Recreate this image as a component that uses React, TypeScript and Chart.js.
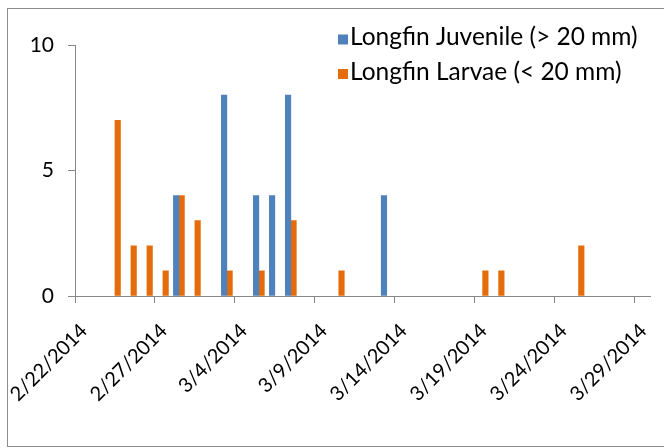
import React, { useEffect, useRef } from 'react';
import { Chart, registerables } from 'chart.js';

Chart.register(...registerables);

// ---- data ----
const AXIS_START = '2/22/2014';
const X_MAX_DAYS = 36;
const X_TICK_STEP = 5;
const Y_MAX = 10;
const Y_STEP = 5;

const juvenileLabel = 'Longfin Juvenile (> 20 mm)';
const juvenileDates = ['2/28/2014', '3/3/2014', '3/5/2014', '3/6/2014', '3/7/2014', '3/13/2014'];
const juvenileCounts = [4, 8, 4, 4, 8, 4];

const larvaeLabel = 'Longfin Larvae (< 20 mm)';
const larvaeDates = [
  '2/24/2014', '2/25/2014', '2/26/2014', '2/27/2014', '2/28/2014', '3/1/2014',
  '3/3/2014', '3/5/2014', '3/7/2014', '3/10/2014', '3/19/2014', '3/20/2014', '3/25/2014',
];
const larvaeCounts = [7, 2, 2, 1, 4, 3, 1, 1, 3, 1, 1, 1, 2];

const BLUE = '#4F81BD';
const ORANGE = '#E46C0A';
const FONT = 'Lato, "Open Sans", sans-serif';

// ---- helpers ----
const DAY = 86400000;
function parseDate(s: string): number {
  const [m, d, y] = s.split('/').map(Number);
  return Date.UTC(y, m - 1, d);
}
const startMs = parseDate(AXIS_START);
const dayOffset = (s: string) => Math.round((parseDate(s) - startMs) / DAY);
const fmtDay = (n: number) => {
  const dt = new Date(startMs + n * DAY);
  return `${dt.getUTCMonth() + 1}/${dt.getUTCDate()}/${dt.getUTCFullYear()}`;
};
const toPoints = (dates: string[], counts: number[]) =>
  dates.map((d, i) => ({ x: dayOffset(d) + 0.5, y: counts[i] }));

const framePlugin = {
  id: 'frameAndLegend',
  afterDraw(chart: any) {
    const ctx = chart.ctx as CanvasRenderingContext2D;
    ctx.save();
    ctx.strokeStyle = '#8c8c8c';
    ctx.lineWidth = 1;
    ctx.strokeRect(7.5, 8.5, 670, 438);
    ctx.font = `24.5px ${FONT}`;
    ctx.textBaseline = 'middle';
    ctx.textAlign = 'left';
    chart.data.datasets.forEach((ds: any, i: number) => {
      const cy = 39.5 + i * 34.5;
      ctx.fillStyle = ds.backgroundColor;
      ctx.fillRect(338, cy - 5, 10, 10);
      ctx.fillStyle = '#000';
      ctx.fillText(ds.label, 350, cy - 2);
    });
    ctx.restore();
  },
};

export default function App() {
  const ref = useRef<HTMLCanvasElement>(null);
  useEffect(() => {
    if (!ref.current) return;
    const chart = new Chart(ref.current, {
      type: 'bar',
      data: {
        datasets: [
          {
            label: juvenileLabel,
            data: toPoints(juvenileDates, juvenileCounts),
            backgroundColor: BLUE,
            borderWidth: 0,
            barThickness: 5.5,
          },
          {
            label: larvaeLabel,
            data: toPoints(larvaeDates, larvaeCounts),
            backgroundColor: ORANGE,
            borderWidth: 0,
            barThickness: 5.5,
          },
        ],
      },
      options: {
        responsive: false,
        animation: false,
        devicePixelRatio: 1,
        layout: { autoPadding: false, padding: { left: 0, top: 45, right: 13.5, bottom: 0 } },
        plugins: { legend: { display: false }, tooltip: { enabled: false } },
        scales: {
          x: {
            type: 'linear',
            min: 0,
            max: X_MAX_DAYS,
            offset: false,
            grid: { display: true, drawOnChartArea: false, drawTicks: true, tickLength: 7, color: '#888', offset: false },
            border: { display: true, color: '#888' },
            ticks: {
              stepSize: X_TICK_STEP,
              includeBounds: false,
              autoSkip: false,
              minRotation: 45,
              maxRotation: 45,
              padding: 16,
              labelOffset: 9,
              color: '#000',
              font: { family: FONT, size: 20 },
              callback: (v: any) => fmtDay(Number(v)),
            },
            afterFit: (s: any) => {
              s.height = 152;
              s.paddingLeft = 0;
              s.paddingRight = 0;
              s.paddingTop = 0;
              s.paddingBottom = 0;
            },
          },
          y: {
            min: 0,
            max: Y_MAX,
            grid: { display: true, drawOnChartArea: false, drawTicks: true, tickLength: 7, color: '#888' },
            border: { display: true, color: '#888' },
            ticks: { stepSize: Y_STEP, padding: 14, color: '#000', font: { family: FONT, size: 21 } },
            afterFit: (s: any) => {
              s.width = 75;
              s.paddingTop = 0;
              s.paddingBottom = 0;
            },
          },
        },
      } as any,
      plugins: [framePlugin],
    });
    return () => chart.destroy();
  }, []);
  return (
    <canvas ref={ref} width={664} height={448} style={{ position: 'fixed', left: 0, top: 0 }} />
  );
}
